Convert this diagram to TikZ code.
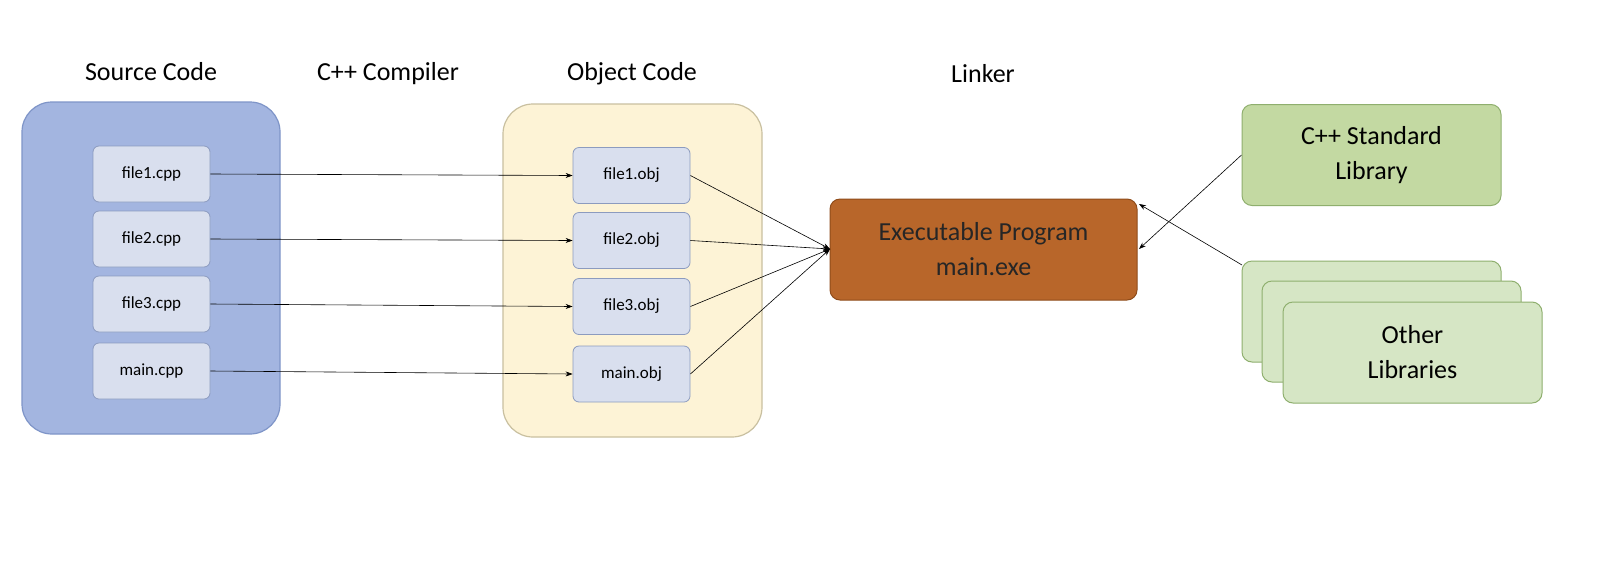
\documentclass[tikz,border=0pt]{standalone}
\usepackage{fontspec}
\setmainfont{Carlito}
\usetikzlibrary{arrows.meta}
\definecolor{srcf}{HTML}{A3B5E0}\definecolor{srcd}{HTML}{7F95C8}
\definecolor{inf}{HTML}{D9DFEE}\definecolor{ind}{HTML}{8C9BBF}
\definecolor{objf}{HTML}{FDF3D6}\definecolor{objd}{HTML}{C9C0A0}
\definecolor{exef}{HTML}{B8662A}\definecolor{exed}{HTML}{8F4C1A}
\definecolor{stdf}{HTML}{C3D9A2}\definecolor{stdd}{HTML}{8FAF6E}
\definecolor{othf}{HTML}{D6E6C5}
\begin{document}
\begin{tikzpicture}[x=1pt,y=-1pt,
  big/.style={draw=#1,line width=1.2pt,rounded corners=30pt},
  small/.style={draw=ind,fill=inf,rounded corners=6pt,line width=0.8pt,minimum width=117pt,minimum height=56pt,inner sep=0pt,font=\fontsize{17}{20}\selectfont},
  lib/.style={draw=stdd,line width=1pt,rounded corners=10pt,minimum width=259pt,minimum height=101pt,inner sep=0pt,align=center,font=\fontsize{26}{35}\selectfont},
  title/.style={font=\fontsize{26}{30}\selectfont},
  arr/.style={-{Stealth[length=7pt,width=5pt]},line width=0.6pt}]
\useasboundingbox (0,0) rectangle (1600,574);
\fill[white] (0,0) rectangle (1600,574);
\draw[big=srcd,fill=srcf] (22,102) rectangle (280,434);
\draw[big=objd,fill=objf] (503,104) rectangle (762,437);
\node[title] (t1) at (151,72) {Source Code};
\node[title] (t2) at (388,74) {C++ Compiler};
\node[title] (t3) at (632,74) {Object Code};
\node[title] (t4) at (983,74) {Linker};
\node[small] (c1) at (151.5,174) {file1.cpp};
\node[small] (c2) at (151.5,239) {file2.cpp};
\node[small] (c3) at (151.5,304) {file3.cpp};
\node[small] (c4) at (151.5,371) {main.cpp};
\node[small] (o1) at (631.5,175.5) {file1.obj};
\node[small] (o2) at (631.5,240.5) {file2.obj};
\node[small] (o3) at (631.5,306.5) {file3.obj};
\node[small] (o4) at (631.5,374) {main.obj};
\node[draw=exed,fill=exef,line width=1pt,rounded corners=10pt,minimum width=307pt,minimum height=101pt,inner sep=0pt,align=center,font=\fontsize{26}{35}\selectfont,text=black!85] (exe) at (983.5,249.5) {Executable Program\\main.exe};
\node[lib,fill=stdf] (std) at (1371.5,155) {C++ Standard\\Library};
\node[lib,fill=othf] (l1) at (1371.5,311.5) {};
\node[lib,fill=othf] (l2) at (1391.5,331.5) {};
\node[lib,fill=othf] (l3) at (1412.5,352.5) {Other\\Libraries};
\foreach \i in {1,2,3,4}{\draw[arr] (c\i.east) -- (o\i.west);}
\coordinate (ein) at (830,249);
\draw[arr] (o1.east) -- (ein);
\draw[arr] (o2.east) -- (ein);
\draw[arr] (o3.east) -- (ein);
\draw[arr] (o4.east) -- (ein);
\coordinate (e1) at (1139,249);
\coordinate (e2) at (1139,204);
\coordinate (lw) at (1242,265);
\draw[arr] (std.west) -- (e1);
\draw[arr] (lw) -- (e2);
\end{tikzpicture}
\end{document}
